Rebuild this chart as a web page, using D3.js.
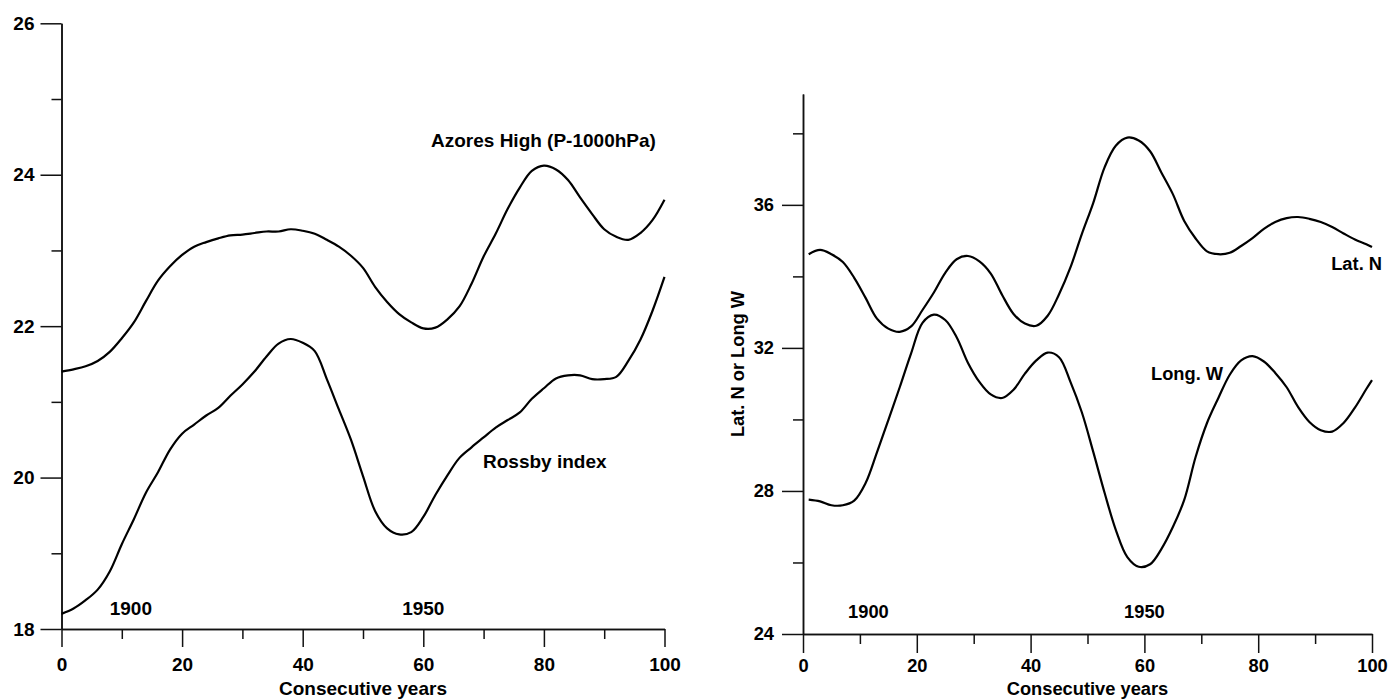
<!DOCTYPE html>
<html>
<head>
<meta charset="utf-8">
<script src="https://cdn.jsdelivr.net/npm/d3@7"></script>
<style>
	body { margin: 0; background: #fff; }
	svg { display: block; font-family: "Liberation Sans", Arial, sans-serif; font-weight: bold; }
	.axis path, .axis line { stroke: #111; stroke-width: 1.5; }
	.axis text { fill: #000; font-weight: bold; }
	.curve { fill: none; stroke: #000; stroke-width: 2.2; }
</style>
</head>
<body>
<svg id="chart" width="1388" height="699"></svg>
<script>
// left panel: years 0..100 every 2
const yearsLeft = [0,2,4,6,8,10,12,14,16,18,20,22,24,26,28,30,32,34,36,38,40,42,44,46,48,50,
	52,54,56,58,60,62,64,66,68,70,72,74,76,78,80,82,84,86,88,90,92,94,96,98,100];
const azoresHigh = [21.40,21.43,21.47,21.54,21.66,21.84,22.05,22.33,22.60,22.79,22.94,23.05,23.11,23.16,
	23.20,23.21,23.23,23.25,23.25,23.28,23.26,23.22,23.14,23.05,22.93,22.77,22.52,22.32,22.16,22.05,21.97,
	21.98,22.09,22.26,22.56,22.92,23.22,23.55,23.83,24.05,24.12,24.07,23.93,23.70,23.48,23.28,23.18,23.14,
	23.23,23.40,23.67];
const rossbyIndex = [18.20,18.27,18.38,18.52,18.76,19.12,19.45,19.80,20.07,20.37,20.58,20.70,20.82,20.92,
	21.08,21.23,21.40,21.60,21.77,21.83,21.78,21.67,21.30,20.90,20.50,20.02,19.56,19.33,19.25,19.28,19.48,
	19.77,20.03,20.26,20.40,20.53,20.66,20.76,20.86,21.04,21.18,21.31,21.35,21.35,21.30,21.30,21.33,21.54,
	21.82,22.20,22.65];

// right panel: odd years 1..99 then 100
const yearsRight = [1,3,5,7,9,11,13,15,17,19,21,23,25,27,29,31,33,35,37,39,41,43,45,47,49,51,53,55,57,59,
	61,63,65,67,69,71,73,75,77,79,81,83,85,87,89,91,93,95,97,99,100];
const latN = [34.62,34.74,34.62,34.40,33.96,33.40,32.82,32.54,32.45,32.60,33.06,33.55,34.10,34.48,34.57,
	34.42,34.08,33.48,32.95,32.68,32.62,32.90,33.50,34.25,35.18,36.05,37.05,37.66,37.88,37.80,37.50,36.90,
	36.30,35.55,35.06,34.70,34.62,34.66,34.85,35.07,35.33,35.52,35.63,35.66,35.61,35.52,35.38,35.20,35.03,
	34.90,34.82];
const longW = [27.76,27.71,27.60,27.60,27.73,28.22,29.08,29.98,30.90,31.85,32.70,32.93,32.78,32.30,31.58,
	31.05,30.70,30.60,30.83,31.28,31.65,31.87,31.74,31.05,30.20,29.10,27.95,26.90,26.15,25.88,25.95,26.38,
	26.99,27.75,28.95,29.90,30.60,31.25,31.65,31.77,31.62,31.30,30.90,30.35,29.93,29.70,29.66,29.90,30.33,
	30.85,31.10];

const xTicksMajor = [0,20,40,60,80,100];
const xTicksMinor = [10,30,50,70,90];
const yTicksLeftMajor = [18,20,22,24,26];
const yTicksLeftMinor = [19,21,23,25];
const yTicksRightMajor = [24,28,32,36];
const yTicksRightMinor = [26,30,34,38];
const yearMarks = [{t: 11.5, label: "1900"}, {t: 60, label: "1950"}];

const svg = d3.select("#chart");

function panel(opt) {
	let g = svg.append("g").style("font-size", opt.font + "px");
	let x = d3.scaleLinear().domain([0, 100]).range(opt.xr);
	let y = d3.scaleLinear().domain(opt.yd).range(opt.yr);

	// minor ticks first, then major with labels
	g.append("g").attr("class", "axis").attr("transform", "translate(0," + y(opt.yd[0]) + ")")
		.call(d3.axisBottom(x).tickValues(xTicksMinor).tickSize(10).tickSizeOuter(0).tickFormat(""));
	g.append("g").attr("class", "axis").attr("transform", "translate(0," + y(opt.yd[0]) + ")")
		.call(d3.axisBottom(x).tickValues(xTicksMajor).tickSize(opt.xTick).tickSizeOuter(0)
			.tickPadding(opt.xPad).tickFormat(d3.format("d")));
	g.append("g").attr("class", "axis").attr("transform", "translate(" + x(0) + ",0)")
		.call(d3.axisLeft(y).tickValues(opt.yMinor).tickSize(10).tickSizeOuter(0).tickFormat(""));
	g.append("g").attr("class", "axis").attr("transform", "translate(" + x(0) + ",0)")
		.call(d3.axisLeft(y).tickValues(opt.yMajor).tickSize(21).tickSizeOuter(0)
			.tickPadding(opt.yPad).tickFormat(d3.format("d")));
	g.selectAll(".axis text").style("font-size", opt.font + "px");

	let line = d3.line()
		.x(function(d) { return x(d[0]); })
		.y(function(d) { return y(d[1]); })
		.curve(d3.curveCatmullRom);
	opt.series.forEach(function(s) {
		g.append("path").attr("class", "curve")
			.attr("d", line(opt.years.map(function(t, i) { return [t, s[i]]; })));
	});

	yearMarks.forEach(function(m) {
		g.append("text").attr("x", x(m.t)).attr("y", opt.yearY)
			.attr("text-anchor", "middle").text(m.label);
	});
	g.append("text").attr("x", (opt.xr[0] + opt.xr[1]) / 2).attr("y", opt.titleY)
		.attr("text-anchor", "middle").text("Consecutive years");
	return {g: g, x: x, y: y};
}

let left = panel({
	xr: [61.5, 664.5], yd: [18, 26], yr: [629, 23.3], font: 19,
	xTick: 18, xPad: 11, yPad: 6, yMajor: yTicksLeftMajor, yMinor: yTicksLeftMinor,
	years: yearsLeft, series: [azoresHigh, rossbyIndex], yearY: 615, titleY: 694.5
});
left.g.append("text").attr("x", 431).attr("y", 147).text("Azores High (P-1000hPa)");
left.g.append("text").attr("x", 483).attr("y", 468).text("Rossby index");

let right = panel({
	xr: [803, 1372], yd: [24, 39.1], yr: [634, 94], font: 18.3,
	xTick: 19, xPad: 6, yPad: 8, yMajor: yTicksRightMajor, yMinor: yTicksRightMinor,
	years: yearsRight, series: [latN, longW], yearY: 618, titleY: 694.5
});
right.g.append("text").attr("x", 1382).attr("y", 270).attr("text-anchor", "end").text("Lat. N");
right.g.append("text").attr("x", 1151).attr("y", 380).text("Long. W");
right.g.append("text")
	.attr("transform", "translate(744,364) rotate(-90)")
	.attr("text-anchor", "middle").text("Lat. N or Long W");
</script>
</body>
</html>
